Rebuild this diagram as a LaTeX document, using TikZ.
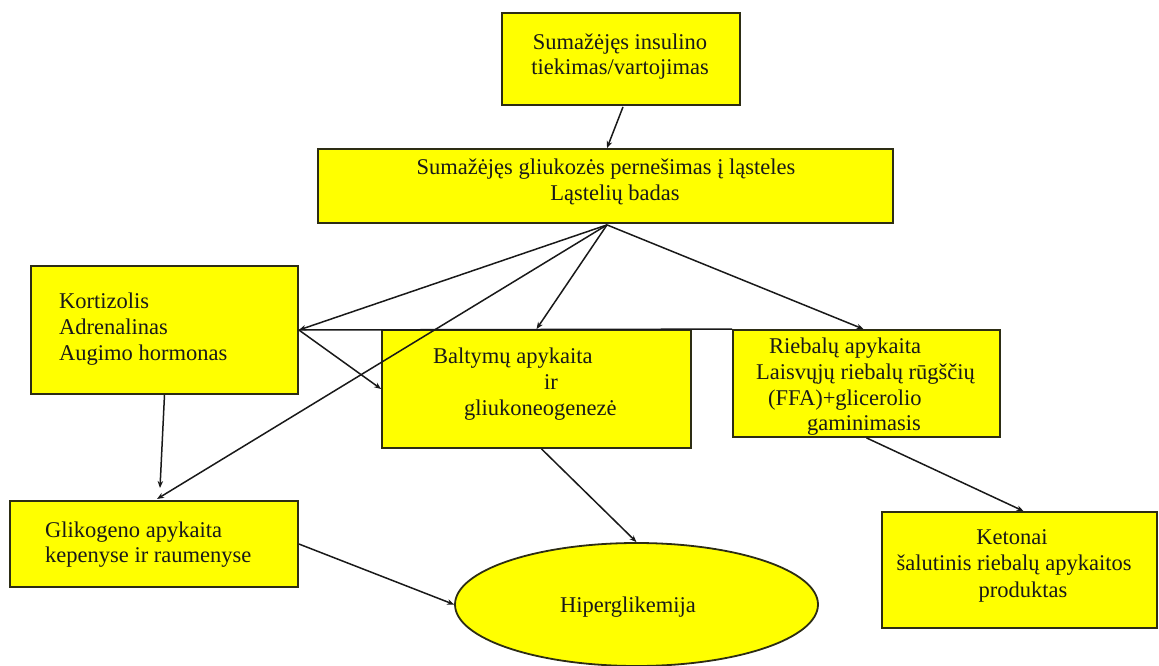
\documentclass[tikz,border=0pt]{standalone}
\usepackage{fontspec}
\setmainfont{Liberation Serif}
\newfontfamily\diagserif{Liberation Serif}
\usetikzlibrary{arrows.meta,calc,shapes.geometric}
\definecolor{boxyellow}{RGB}{255,255,0}
\definecolor{boxline}{RGB}{45,45,20}
\tikzset{
  ybox/.style={rectangle, draw=boxline, fill=boxyellow, line width=1.8pt, inner sep=0pt},
  yell/.style={ellipse, draw=boxline, fill=boxyellow, line width=1.8pt, inner sep=0pt},
  txt/.style={inner sep=0pt, font=\diagserif\fontsize{22.5}{27}\selectfont, text=black!90},
  conn/.style={line width=1.5pt, draw=black!90},
  arr/.style={conn, -{Stealth[length=7pt,width=5.5pt]}}
}
\begin{document}
\begin{tikzpicture}[x=1pt,y=-1pt]
\useasboundingbox (0,0) rectangle (1159,666);
% boxes
\node[ybox, minimum width=238, minimum height=92] (top) at (621,59) {};
\node[ybox, minimum width=575, minimum height=74] (mid) at (605.5,186) {};
\node[ybox, minimum width=267, minimum height=128] (kort) at (164.5,330) {};
\node[ybox, minimum width=309, minimum height=118] (balt) at (536.5,389) {};
\node[ybox, minimum width=267, minimum height=107] (rieb) at (866.5,383.5) {};
\node[ybox, minimum width=288, minimum height=86] (glik) at (154,544) {};
\node[yell, minimum width=363, minimum height=123] (hiper) at (636.5,604.5) {};
\node[ybox, minimum width=275, minimum height=116] (keto) at (1019.5,570) {};
% texts
\node[txt, anchor=base] (t1a) at (620,50) {Sumažėjęs insulino};
\node[txt, anchor=base] (t1b) at (620,75) {tiekimas/vartojimas};
\node[txt, anchor=base] (t2a) at (606,175) {Sumažėjęs gliukozės pernešimas į ląsteles};
\node[txt, anchor=base] (t2b) at (615,200) {Ląstelių badas};
\node[txt, anchor=base west] (t3a) at (59,308) {Kortizolis};
\node[txt, anchor=base west] (t3b) at (59,334) {Adrenalinas};
\node[txt, anchor=base west] (t3c) at (59,360) {Augimo hormonas};
\node[txt, anchor=base west] (t4a) at (433,363) {Baltymų apykaita};
\node[txt, anchor=base west] (t4b) at (544,389) {ir};
\node[txt, anchor=base west] (t4c) at (464,415) {gliukoneogenezė};
\node[txt, anchor=base west] (t5a) at (769,353) {Riebalų apykaita};
\node[txt, anchor=base west] (t5b) at (756,379) {Laisvųjų riebalų rūgščių};
\node[txt, anchor=base west] (t5c) at (768,405) {(FFA)+glicerolio};
\node[txt, anchor=base west] (t5d) at (807,430) {gaminimasis};
\node[txt, anchor=base west] (t6a) at (45,537) {Glikogeno apykaita};
\node[txt, anchor=base west] (t6b) at (45,562) {kepenyse ir raumenyse};
\node[txt, anchor=base] (t7) at (628,612) {Hiperglikemija};
\node[txt, anchor=base] (t8a) at (1012,544) {Ketonai};
\node[txt, anchor=base] (t8b) at (1014,570) {šalutinis riebalų apykaitos};
\node[txt, anchor=base] (t8c) at (1023,597) {produktas};
% helper coordinates
\coordinate (topout) at ($(top.south)+(2,1)$);
\coordinate (midin) at ($(mid.north)+(1.5,0)$);
\coordinate (hub) at ($(mid.south)+(1.5,1)$);
\coordinate (gtop) at (157,499);
\coordinate (gvert) at (160,488);
\coordinate (baltout) at ($(balt.south)+(5,0)$);
% connectors
\draw[arr] (topout) -- (midin);
\draw[arr] (hub) -- (kort.east);
\draw[arr] (hub) -- (gtop);
\draw[arr] (hub) -- (balt.north);
\draw[arr] (hub) -- ($(rieb.north)+(-3,0)$);
\draw[conn] (kort.east) -- (rieb.north west);
\draw[arr] (kort.east) -- (balt.west);
\draw[arr] (kort.south) -- (gvert);
\draw[arr] (baltout) -- (hiper.north);
\draw[arr] (glik.east) -- (hiper.west);
\draw[arr] (rieb.south) -- ($(keto.north)+(4,0)$);
\end{tikzpicture}
\end{document}
